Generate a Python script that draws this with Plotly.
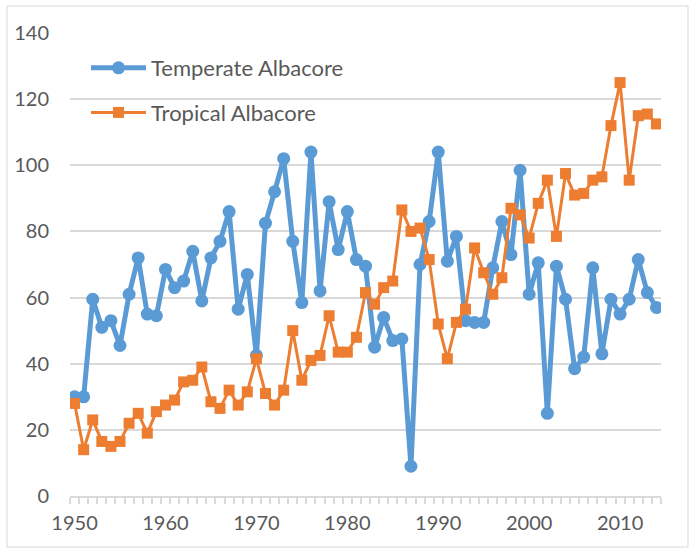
import plotly.graph_objects as go

years = list(range(1950, 2015))

temperate = [30, 30, 59.5, 51, 53, 45.5, 61, 72, 55, 54.5,
             68.5, 63, 65, 74, 59, 72, 77, 86, 56.5, 67,
             42.5, 82.5, 92, 102, 77, 58.5, 104, 62, 89, 74.5,
             86, 71.5, 69.5, 45, 54, 47, 47.5, 9, 70, 83,
             104, 71, 78.5, 53, 52.5, 52.5, 69, 83, 73, 98.5,
             61, 70.5, 25, 69.5, 59.5, 38.5, 42, 69, 43, 59.5,
             55, 59.5, 71.5, 61.5, 57]

tropical = [28, 14, 23, 16.5, 15, 16.5, 22, 25, 19, 25.5,
            27.5, 29, 34.5, 35, 39, 28.5, 26.5, 32, 27.5, 31.5,
            41.5, 31, 27.5, 32, 50, 35, 41, 42.5, 54.5, 43.5,
            43.5, 48, 61.5, 58, 63, 65, 86.5, 80, 81, 71.5,
            52, 41.5, 52.5, 56.5, 75, 67.5, 61, 66, 87, 85,
            78, 88.5, 95.5, 78.5, 97.5, 91, 91.5, 95.5, 96.5, 112,
            125, 95.5, 115, 115.5, 112.5]

x_labels = [1950, 1960, 1970, 1980, 1990, 2000, 2010]
y_labels = [0, 20, 40, 60, 80, 100, 120, 140]

BLUE = "#5B9BD5"
ORANGE = "#ED7D31"
TEXT = "#595959"
GRID = "#D9D9D9"
FONT = "Lato"

# plot area in pixels
W, H = 694, 552
L, R, T, B = 70, 33, 33, 56
PW, PH = W - L - R, H - T - B


def px_x(px):
    return (px - L) / PW


def px_y(py):
    return (H - B - py) / PH


fig = go.Figure()
fig.add_trace(go.Scatter(
    x=years, y=temperate, name="Temperate Albacore", mode="lines+markers",
    line=dict(color=BLUE, width=5),
    marker=dict(symbol="circle", size=13, color=BLUE),
    legendgroup="temperate",
))
fig.add_trace(go.Scatter(
    x=years, y=tropical, name="Tropical Albacore", mode="lines+markers",
    line=dict(color=ORANGE, width=3),
    marker=dict(symbol="square", size=11, color=ORANGE),
    legendgroup="tropical",
))

fig.update_layout(
    width=W, height=H,
    margin=dict(l=L, r=R, t=T, b=B),
    paper_bgcolor="white", plot_bgcolor="white",
    font=dict(family=FONT, color=TEXT),
    showlegend=True,
    legend=dict(
        x=px_x(86), y=px_y(47), xanchor="left", yanchor="top",
        bgcolor="rgba(0,0,0,0)", font=dict(family=FONT, size=22, color=TEXT),
        itemwidth=55, traceorder="grouped", tracegroupgap=13,
    ),
    xaxis=dict(
        range=[1949.5, 2014.5], tickmode="array", tickvals=x_labels,
        ticks="", showgrid=False, zeroline=False,
        showline=True, linecolor=GRID, linewidth=1.5,
        tickfont=dict(family=FONT, size=20, color=TEXT),
        tickangle=0, ticklabelstandoff=8,
        minor=dict(tickmode="linear", tick0=1949.5, dtick=1, ticks="outside",
                   ticklen=6, tickcolor=GRID, tickwidth=1.5, showgrid=False),
    ),
    yaxis=dict(
        range=[0, 140], tickmode="array", tickvals=y_labels,
        showgrid=True, gridcolor=GRID, gridwidth=1.5, zeroline=False,
        showline=False, ticks="",
        tickfont=dict(family=FONT, size=20, color=TEXT),
        ticklabelstandoff=20,
    ),
    shapes=[dict(type="rect", xref="paper", yref="paper",
                 x0=px_x(7), x1=px_x(688), y0=px_y(547), y1=px_y(6),
                 line=dict(color=GRID, width=1), fillcolor="rgba(0,0,0,0)",
                 layer="below")],
)

fig.write_html("out.html")
